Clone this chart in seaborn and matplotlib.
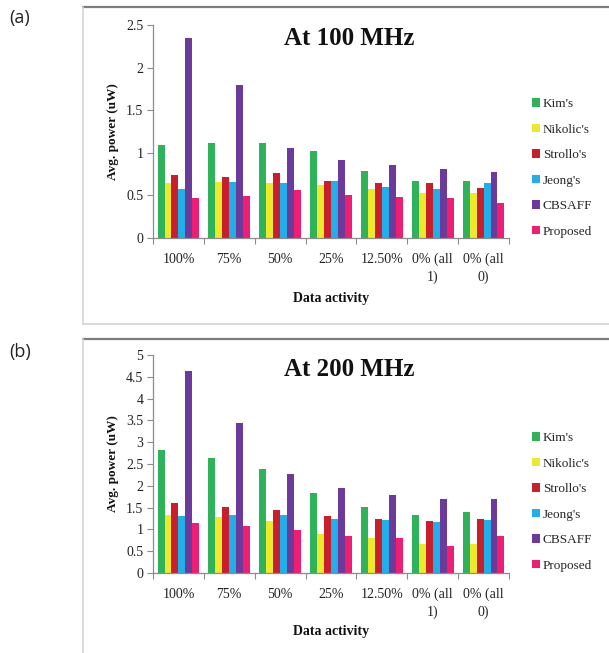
import numpy as np
import pandas as pd
import matplotlib
matplotlib.use("Agg")
import matplotlib.pyplot as plt
from matplotlib.lines import Line2D
from matplotlib.patches import Patch
import seaborn as sns

# Data activity categories and average power per design (uW)
activity = ["100%", "75%", "50%", "25%", "12.50%", "0% (all\n1)", "0% (all\n0)"]
designs = ["Kim's", "Nikolic's", "Strollo's", "Jeong's", "CBSAFF", "Proposed"]
colors = ["#2eb35b", "#ecea2b", "#c91f2c", "#22aee8", "#6b3a9b", "#ee1e72"]

kim_100 = [1.09, 1.11, 1.11, 1.02, 0.79, 0.665, 0.665]
nikolic_100 = [0.65, 0.66, 0.64, 0.62, 0.57, 0.53, 0.53]
strollo_100 = [0.74, 0.72, 0.76, 0.67, 0.65, 0.64, 0.585]
jeong_100 = [0.58, 0.66, 0.64, 0.67, 0.60, 0.58, 0.64]
cbsaff_100 = [2.35, 1.80, 1.055, 0.91, 0.86, 0.81, 0.77]
proposed_100 = [0.47, 0.49, 0.565, 0.505, 0.48, 0.47, 0.415]

kim_200 = [2.83, 2.64, 2.39, 1.83, 1.52, 1.33, 1.40]
nikolic_200 = [1.33, 1.29, 1.19, 0.90, 0.80, 0.67, 0.67]
strollo_200 = [1.61, 1.52, 1.45, 1.30, 1.24, 1.19, 1.25]
jeong_200 = [1.30, 1.33, 1.33, 1.24, 1.21, 1.17, 1.22]
cbsaff_200 = [4.64, 3.45, 2.27, 1.96, 1.80, 1.70, 1.69]
proposed_200 = [1.14, 1.08, 0.98, 0.84, 0.80, 0.62, 0.86]

series_100 = [kim_100, nikolic_100, strollo_100, jeong_100, cbsaff_100, proposed_100]
series_200 = [kim_200, nikolic_200, strollo_200, jeong_200, cbsaff_200, proposed_200]

yticks_100 = [0, 0.5, 1, 1.5, 2, 2.5]
yticks_200 = [0, 0.5, 1, 1.5, 2, 2.5, 3, 3.5, 4, 4.5, 5]


def long_form(series):
    rows = []
    for name, vals in zip(designs, series):
        for cat, v in zip(activity, vals):
            rows.append({"activity": cat, "design": name, "power": v})
    return pd.DataFrame(rows)


sns.set_theme(style="white")
plt.rcParams["font.family"] = ["Liberation Serif", "DejaVu Serif"]

W, H = 609, 653
fig = plt.figure(figsize=(W / 100, H / 100), dpi=100)


def fx(px):
    return px / W


def fy(py):
    return 1 - py / H


axis_grey = "#8c8c8c"


def draw_panel(rect, series, yticks, title, xlab_y, legend_top):
    ax = fig.add_axes(rect)
    df = long_form(series)
    sns.barplot(data=df, x="activity", y="power", hue="design",
                order=activity, hue_order=designs, palette=colors,
                saturation=1, width=0.82, linewidth=0, errorbar=None,
                legend=False, ax=ax)
    ax.set_xlim(-0.5, len(activity) - 0.5)
    ax.set_ylim(0, yticks[-1])
    ax.set_yticks(yticks)
    ax.set_yticklabels([f"{t:g}" for t in yticks])
    ax.set_xticks(range(len(activity)))
    ax.set_xticklabels(activity, linespacing=1.45)
    ax.set_xticks(np.arange(-0.5, len(activity), 1.0), minor=True)
    ax.tick_params(axis="x", which="major", length=0, pad=10.5, labelsize=10,
                   labelcolor="#222222")
    ax.tick_params(axis="x", which="minor", length=4, width=0.8,
                   color=axis_grey, direction="out", bottom=True)
    ax.tick_params(axis="y", length=4, width=0.8, color=axis_grey,
                   direction="out", left=True, pad=3, labelsize=10,
                   labelcolor="#222222")
    for s in ["top", "right"]:
        ax.spines[s].set_visible(False)
    for s in ["left", "bottom"]:
        ax.spines[s].set_color(axis_grey)
        ax.spines[s].set_linewidth(0.9)
    ax.set_ylabel("Avg. power (uW)", fontsize=9.5, fontweight="bold",
                  color="#111111")
    ax.yaxis.set_label_coords(-0.095, 0.5)
    ax.set_xlabel("Data activity", fontsize=10, fontweight="bold",
                  color="#111111")
    ax.xaxis.set_label_coords(0.5, xlab_y)
    ax.text(0.55, 0.935, title, transform=ax.transAxes, ha="center",
            va="center", fontsize=18, fontweight="bold", color="#111111")

    handles = [Patch(facecolor=c, edgecolor="none", label=d)
               for c, d in zip(colors, designs)]
    fig.legend(handles=handles, loc="upper left",
               bbox_to_anchor=(fx(527), fy(legend_top)),
               frameon=False, fontsize=9.5, handlelength=0.6,
               handleheight=0.6, handletextpad=0.2,
               labelspacing=1.02, borderaxespad=0)
    return ax


# Panel frames
frame_top = "#7d7d7d"
frame_side = "#d4d4d4"
for top, bottom in [(7, 324), (339, 700)]:
    fig.add_artist(Line2D([fx(83), 1.05], [fy(top), fy(top)],
                          transform=fig.transFigure, color=frame_top, lw=1.6))
    fig.add_artist(Line2D([fx(83), fx(83)], [fy(top), fy(bottom)],
                          transform=fig.transFigure, color=frame_side, lw=1.2))
    fig.add_artist(Line2D([fx(83), 1.05], [fy(bottom), fy(bottom)],
                          transform=fig.transFigure, color=frame_side, lw=1.2))

ax_a = draw_panel([fx(153), fy(238), fx(509) - fx(153), fy(25) - fy(238)],
                  series_100, yticks_100, "At 100 MHz", -0.255, 93)
ax_b = draw_panel([fx(153), fy(573), fx(509) - fx(153), fy(355) - fy(573)],
                  series_200, yticks_200, "At 200 MHz", -0.24, 427)

fig.text(fx(20), fy(18), "(a)", fontsize=13, ha="center", va="center",
         family=["Open Sans", "DejaVu Sans"], color="#222222")
fig.text(fx(20), fy(352), "(b)", fontsize=13, ha="center", va="center",
         family=["Open Sans", "DejaVu Sans"], color="#222222")

fig.savefig("out.png", dpi=100)
